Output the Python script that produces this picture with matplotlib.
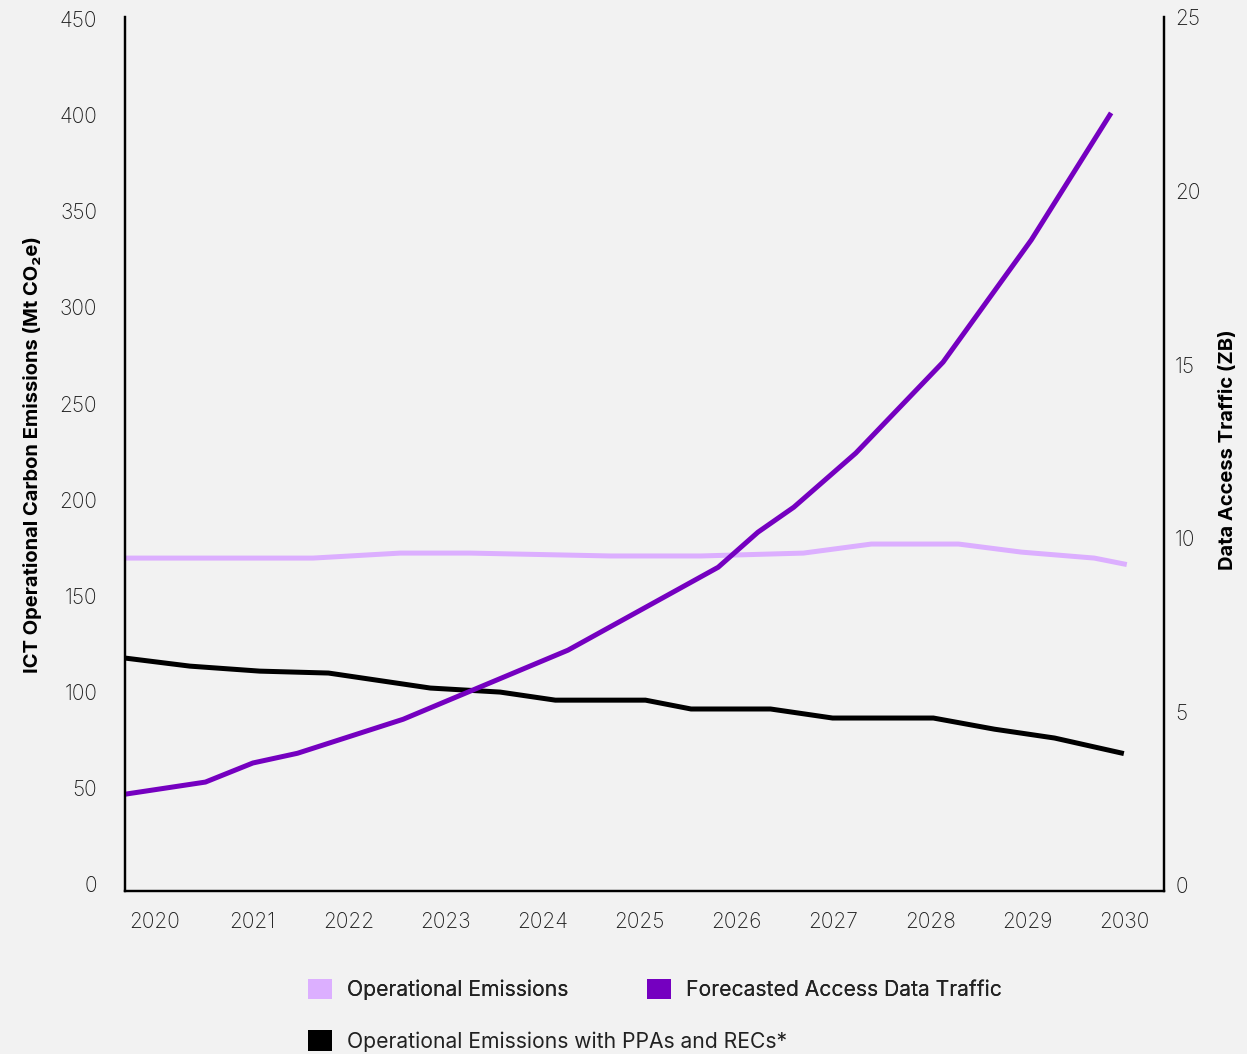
import matplotlib
matplotlib.use("Agg")
import matplotlib.pyplot as plt
from matplotlib.patches import Patch

plt.rcParams['font.family'] = ['Inter', 'DejaVu Sans']

# Data (x in fractional years)
years_ops = [2019.69, 2021.63, 2022.53, 2023.25, 2024.70, 2025.63, 2026.69,
             2027.39, 2028.29, 2028.94, 2029.69, 2030.0]
ops_emissions = [169.6, 169.6, 172.2, 172.2, 170.7, 170.7, 172.2,
                 176.9, 176.9, 172.7, 169.6, 166.5]

years_ppa = [2019.69, 2020.36, 2021.08, 2021.79, 2022.84, 2023.56, 2024.13,
             2025.06, 2025.53, 2026.35, 2026.99, 2028.03, 2028.66, 2029.28, 2029.97]
ppa_emissions = [117.6, 113.4, 110.8, 109.8, 102.0, 99.9, 95.7,
                 95.7, 91.1, 91.1, 86.4, 86.4, 80.6, 76.0, 68.2]

years_traffic = [2019.69, 2020.52, 2021.01, 2021.47, 2022.56, 2024.26, 2025.81,
                 2026.22, 2026.59, 2027.23, 2028.13, 2029.04, 2029.85]
data_traffic = [2.62, 2.97, 3.52, 3.80, 4.78, 6.77, 9.16,
                10.17, 10.89, 12.45, 15.07, 18.59, 22.19]

year_ticks = list(range(2020, 2031))
left_ticks = list(range(0, 451, 50))
right_ticks = list(range(0, 26, 5))

bg = '#f2f2f2'
c_light = '#dcafff'
c_purple = '#7500c0'
c_black = '#000000'
tick_color = '#1e1e1e'

fig = plt.figure(figsize=(12.47, 10.54), dpi=100, facecolor=bg)
ax = fig.add_axes([0.1002, 0.1546, 0.8333, 0.8288], facecolor=bg)
ax2 = ax.twinx()

ax.plot(years_ops, ops_emissions, color=c_light, lw=3.6, solid_joinstyle='miter')
ax.plot(years_ppa, ppa_emissions, color=c_black, lw=3.6, solid_joinstyle='miter')
ax2.plot(years_traffic, data_traffic, color=c_purple, lw=3.6, solid_joinstyle='miter')

ax.set_xlim(2019.69, 2030.41)
ax.set_ylim(-3.6, 450.8)
ax2.set_ylim(-0.17, 25.0)

ax.set_xticks(year_ticks)
ax.set_yticks(left_ticks)
ax2.set_yticks(right_ticks)

ax.tick_params(axis='x', length=0, pad=15, labelsize=15, labelcolor=tick_color)
ax.tick_params(axis='y', length=0, pad=20, labelsize=15, labelcolor=tick_color)
ax2.tick_params(axis='y', length=0, pad=8, labelsize=15, labelcolor=tick_color)
for lab in ax.get_xticklabels() + ax.get_yticklabels() + ax2.get_yticklabels():
    lab.set_fontweight('light')

for a in (ax, ax2):
    a.spines['top'].set_visible(False)
    for s in ('left', 'right', 'bottom'):
        a.spines[s].set_linewidth(1.6)
        a.spines[s].set_color('black')

ax.set_ylabel('ICT Operational Carbon Emissions (Mt CO\u2082e)', fontsize=14.5,
              fontweight='bold')
ax.yaxis.set_label_coords(-0.08, 0.5)
ax2.set_ylabel('Data Access Traffic (ZB)', fontsize=14.5, fontweight='bold')
ax2.yaxis.set_label_coords(1.053, 0.505)

h_ops = Patch(facecolor=c_light, edgecolor='none', label='Operational Emissions')
h_traffic = Patch(facecolor=c_purple, edgecolor='none', label='Forecasted Access Data Traffic')
h_ppa = Patch(facecolor=c_black, edgecolor='none', label='Operational Emissions with PPAs and RECs*')

leg_kw = dict(frameon=False, fontsize=15.2, handlelength=1.12, handleheight=1.1,
              handletextpad=0.75, borderpad=0, borderaxespad=0, labelcolor='#222222')
leg1 = fig.legend(handles=[h_ops, h_traffic], ncol=2, columnspacing=3.7,
                  loc='upper left', bbox_to_anchor=(0.247, 0.071), **leg_kw)
fig.add_artist(leg1)
fig.legend(handles=[h_ppa], loc='upper left', bbox_to_anchor=(0.247, 0.0225), **leg_kw)

fig.savefig('out.png', dpi=100, facecolor=bg)
